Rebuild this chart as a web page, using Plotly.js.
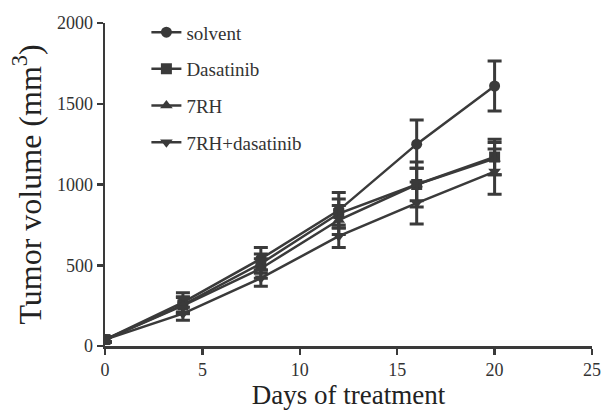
<!DOCTYPE html>
<html><head><meta charset="utf-8">
<script src="https://cdn.plot.ly/plotly-3.0.1.min.js"></script>
<style>html,body{margin:0;padding:0;background:#fff}</style>
</head><body><div id="chart" style="width:603px;height:410px"></div>
<script>
const days = [0, 4, 8, 12, 16, 20];
const seriesNames = ["solvent", "Dasatinib", "7RH", "7RH+dasatinib"];
const solvent = [40, 270, 540, 840, 1250, 1610];
const solventErr = [15, 60, 70, 110, 150, 155];
const dasatinib = [40, 255, 510, 820, 1000, 1170];
const dasatinibErr = [15, 50, 60, 90, 100, 110];
const rh7 = [40, 250, 480, 780, 1000, 1160];
const rh7Err = [15, 50, 60, 90, 140, 100];
const rh7das = [40, 200, 420, 680, 885, 1080];
const rh7dasErr = [15, 40, 50, 70, 130, 140];
const xTicks = [0, 5, 10, 15, 20, 25];
const yTicks = [0, 500, 1000, 1500, 2000];

const col = '#3a3a3a';
const symbols = ['circle', 'square', 'triangle-up', 'triangle-down'];
const ys = [solvent, dasatinib, rh7, rh7das];
const es = [solventErr, dasatinibErr, rh7Err, rh7dasErr];
const traces = ys.map((y, i) => ({
  x: days, y: y, name: seriesNames[i], type: 'scatter', mode: 'lines+markers',
  legendgroup: 'g' + i,
  line: {color: col, width: 2.5},
  marker: {symbol: symbols[i], size: 11, color: col},
  error_y: {type: 'data', array: es[i], visible: true, color: col, thickness: 3, width: 7}
}));
const layout = {
  width: 603, height: 410,
  margin: {l: 105, r: 11, t: 23, b: 64},
  paper_bgcolor: '#fff', plot_bgcolor: '#fff',
  font: {family: 'Liberation Serif, serif', color: '#333'},
  showlegend: true,
  legend: {x: 0.085, y: 1.03, xanchor: 'left', yanchor: 'top', bgcolor: 'rgba(0,0,0,0)',
    font: {size: 19, color: '#333'}, traceorder: 'grouped', tracegroupgap: 9, itemwidth: 30},
  xaxis: {range: [0, 25], tickvals: xTicks, ticktext: xTicks.map(String),
    showgrid: false, zeroline: false, showline: true, linecolor: col, linewidth: 2.5,
    ticks: 'outside', ticklen: 6, tickwidth: 2.5, tickcolor: col,
    ticklabeloverflow: 'allow', automargin: false,
    tickfont: {size: 18, color: '#333'},
    title: {text: 'Days of treatment', font: {size: 27, color: '#222'}, standoff: 7}},
  yaxis: {range: [0, 2000], tickvals: yTicks, ticktext: yTicks.map(String),
    showgrid: false, zeroline: false, showline: true, linecolor: col, linewidth: 2.5,
    ticks: 'outside', ticklen: 6, tickwidth: 2.5, tickcolor: col,
    tickfont: {size: 18, color: '#333'},
    title: {text: 'Tumor volume (mm<sup>3</sup>)', font: {size: 32, color: '#222'}, standoff: 6}}
};
Plotly.newPlot('chart', traces, layout, {displayModeBar: false, staticPlot: true});
</script></body></html>
